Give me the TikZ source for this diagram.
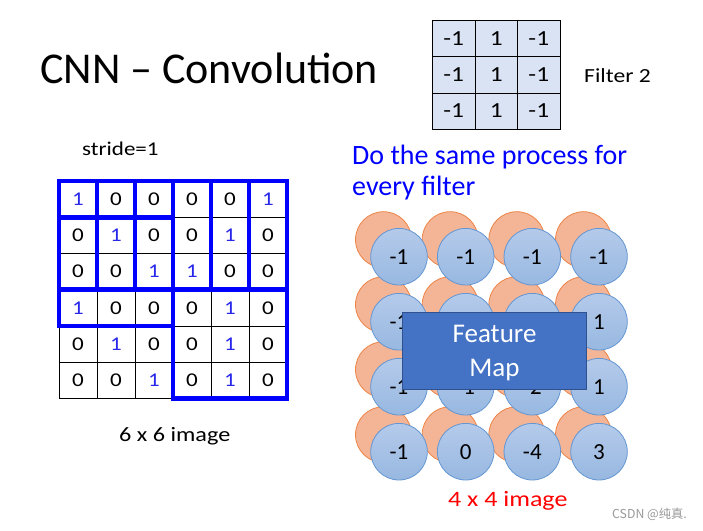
\documentclass[tikz,border=0pt]{standalone}
\usepackage{fontspec}
\setmainfont{Carlito}
\newfontfamily\wide{Carlito}[FakeStretch=1.18]
\newfontfamily\cjk{Noto Sans CJK SC}
\definecolor{oneblue}{RGB}{40,40,235}
\definecolor{winblue}{RGB}{0,0,255}
\definecolor{filtfill}{RGB}{218,227,243}
\definecolor{orfill}{RGB}{244,180,150}
\definecolor{ordraw}{RGB}{237,132,70}
\definecolor{bltop}{RGB}{180,202,234}
\definecolor{blbot}{RGB}{152,184,225}
\definecolor{bldraw}{RGB}{100,150,210}
\definecolor{fmfill}{RGB}{68,114,196}
\definecolor{fmdraw}{RGB}{47,82,143}
\begin{document}
\begin{tikzpicture}[x=1pt,y=-1pt,
  cell/.style={draw=black,line width=0.8pt,minimum width=38pt,minimum height=36.25pt,inner sep=0pt,outer sep=0pt,font=\wide\fontsize{19.5}{20}\selectfont},
  fcell/.style={draw=black,line width=0.8pt,fill=filtfill,minimum width=42.6pt,minimum height=36.1pt,inner sep=0pt,outer sep=0pt,font=\wide\fontsize{21.5}{22}\selectfont},
  win/.style={draw=winblue,line width=4.6pt},
  orc/.style={circle,draw=ordraw,fill=orfill,line width=0.8pt,minimum size=56pt,inner sep=0pt},
  blc/.style={circle,draw=bldraw,top color=bltop,bottom color=blbot,line width=0.8pt,minimum size=56.6pt,inner sep=0pt,font=\fontsize{23}{24}\selectfont},
  fmap/.style={rectangle,draw=fmdraw,fill=fmfill,line width=1pt,minimum width=184.4pt,minimum height=77pt,inner sep=0pt},
  lbl/.style={inner sep=0pt,anchor=base west}
]
\useasboundingbox (0,0) rectangle (703,530);
\fill[white] (0,0) rectangle (703,530);

% title
\node[lbl,font=\fontsize{44}{46}\selectfont] (title) at (40,83) {CNN – Convolution};

% filter 2
\foreach \row [count=\r from 0] in {{-1,1,-1},{-1,1,-1},{-1,1,-1}}{
  \foreach \v [count=\c from 0] in \row {
    \node[fcell] (f-\r-\c) at (432.3+42.6*\c+21.3, 20.7+36.1*\r+18.05) {\v};
  }
}
\node[lbl,font=\wide\fontsize{20}{22}\selectfont] (flabel) at (584,82.3) {Filter 2};

% stride
\node[lbl,font=\wide\fontsize{19.5}{21}\selectfont] (stride) at (82,155) {stride=1};

% image grid
\foreach \row [count=\r from 0] in {{1,0,0,0,0,1},{0,1,0,0,1,0},{0,0,1,1,0,0},{1,0,0,0,1,0},{0,1,0,0,1,0},{0,0,1,0,1,0}}{
  \foreach \v [count=\c from 0] in \row {
    \ifnum\v=1 \def\tc{oneblue}\else\def\tc{black}\fi
    \node[cell,text=\tc] (g-\r-\c) at (59+38*\c+19, 181+36.25*\r+18.125) {\v};
  }
}
% stride windows
\draw[win] (g-0-0.north west) rectangle (g-2-2.south east);
\draw[win] (g-0-1.north west) rectangle (g-2-3.south east);
\draw[win] (g-0-2.north west) rectangle (g-2-4.south east);
\draw[win] (g-0-3.north west) rectangle (g-2-5.south east);
\draw[win] (g-1-0.north west) rectangle (g-3-2.south east);
\draw[win] (g-3-3.north west) rectangle (g-5-5.south east);

\node[lbl,font=\wide\fontsize{20.5}{22}\selectfont] (img6) at (119,441.7) {6 x 6 image};

% blue text
\node[lbl,text=winblue,font=\fontsize{28}{31}\selectfont] (same1) at (352,164) {Do the same process for};
\node[lbl,text=winblue,font=\fontsize{28}{31}\selectfont] (same2) at (352,195.5) {every filter};

% feature map circles (values hidden under the box are left blank)
\foreach \row [count=\r from 0] in {{-1,-1,-1,-1},{-1,{},{},1},{-1,-1,-2,1},{-1,0,-4,3}}{
  \foreach \v [count=\c from 0] in \row {
    \node[orc] (o-\r-\c) at (399+66.67*\c-15.5, 256.7+65*\r-17) {};
  }
}
\foreach \row [count=\r from 0] in {{-1,-1,-1,-1},{-1,{},{},1},{-1,-1,-2,1},{-1,0,-4,3}}{
  \foreach \v [count=\c from 0] in \row {
    \node[blc] (b-\r-\c) at (399+66.67*\c, 256.7+65*\r) {\v};
  }
}
\node[fmap] (fm) at (494.5,350.8) {};
\node[inner sep=0pt,anchor=base,text=white,font=\fontsize{27}{28}\selectfont] (fmt1) at (494.5,342.7) {Feature};
\node[inner sep=0pt,anchor=base,text=white,font=\fontsize{27}{28}\selectfont] (fmt2) at (494.5,376.2) {Map};

\node[lbl,text=red,font=\wide\fontsize{22}{24}\selectfont] (img4) at (448,506.7) {4 x 4 image};

\node[lbl,text=black!40,font=\cjk\fontsize{12.3}{13}\selectfont] (wm) at (612,518) {CSDN @纯真.};
\end{tikzpicture}
\end{document}
